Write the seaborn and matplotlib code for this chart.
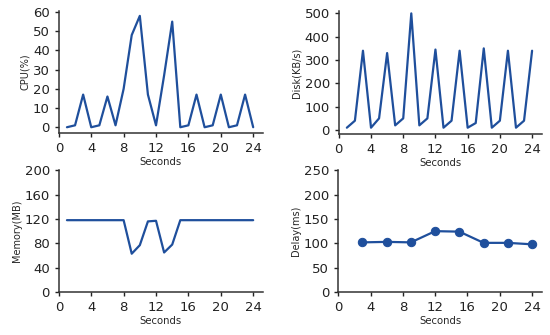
import numpy as np
import pandas as pd
import matplotlib
matplotlib.use("Agg")
import matplotlib.pyplot as plt
import seaborn as sns

sns.set_style("ticks")
plt.rcParams['font.family'] = ['DejaVu Sans']

# data
seconds = list(range(1, 25))
cpu = [0, 1, 17, 0, 1, 16, 1, 20, 48, 58, 17, 1, 27, 55, 0, 1, 17, 0, 1, 17, 0, 1, 17, 0]
disk = [10, 40, 340, 10, 50, 330, 20, 50, 500, 20, 50, 345, 10, 40, 340, 10, 30, 350,
        10, 40, 340, 10, 40, 340]
memory = [118, 118, 118, 118, 118, 118, 118, 118, 63, 77, 116, 117, 65, 78, 118, 118,
          118, 118, 118, 118, 118, 118, 118, 118]
delay_seconds = [3, 6, 9, 12, 15, 18, 21, 24]
delay = [102, 103, 102, 125, 124, 101, 101, 98]

color = "#1f4f9c"

fig = plt.figure(figsize=(5.5, 3.35), dpi=100)
ax_cpu = fig.add_axes([0.107, 0.603, 0.371, 0.364])
ax_disk = fig.add_axes([0.616, 0.600, 0.369, 0.367])
ax_mem = fig.add_axes([0.107, 0.128, 0.371, 0.364])
ax_delay = fig.add_axes([0.615, 0.128, 0.370, 0.364])

sns.lineplot(x=seconds, y=cpu, ax=ax_cpu, color=color, linewidth=1.6)
sns.lineplot(x=seconds, y=disk, ax=ax_disk, color=color, linewidth=1.6)
sns.lineplot(x=seconds, y=memory, ax=ax_mem, color=color, linewidth=1.6)
sns.lineplot(x=delay_seconds, y=delay, ax=ax_delay, color=color, linewidth=1.6,
             marker='o', markersize=6, markeredgecolor=color)

ax_cpu.set_ylim(-3, 60.5)
ax_cpu.set_yticks([0, 10, 20, 30, 40, 50, 60])
ax_cpu.set_ylabel("CPU(%)")
ax_disk.set_ylim(-17, 510)
ax_disk.set_yticks([0, 100, 200, 300, 400, 500])
ax_disk.set_ylabel("Disk(KB/s)")
ax_mem.set_ylim(0, 200)
ax_mem.set_yticks([0, 40, 80, 120, 160, 200])
ax_mem.set_ylabel("Memory(MB)")
ax_delay.set_ylim(0, 250)
ax_delay.set_yticks([0, 50, 100, 150, 200, 250])
ax_delay.set_ylabel("Delay(ms)")

for ax in [ax_cpu, ax_disk, ax_mem, ax_delay]:
    ax.set_xlim(0, 25.2)
    ax.set_xticks([0, 4, 8, 12, 16, 20, 24])
    ax.set_xlabel("Seconds", fontsize=7.3, labelpad=1.5)
    ax.yaxis.label.set_size(7)
    ax.yaxis.labelpad = 2
    ax.tick_params(labelsize=9.5, length=3, width=1, pad=3.5, colors="#222222")
    for s in ['left', 'bottom']:
        ax.spines[s].set_linewidth(1.1)
        ax.spines[s].set_color("#333333")
    sns.despine(ax=ax)

fig.savefig("out.png", dpi=100)
